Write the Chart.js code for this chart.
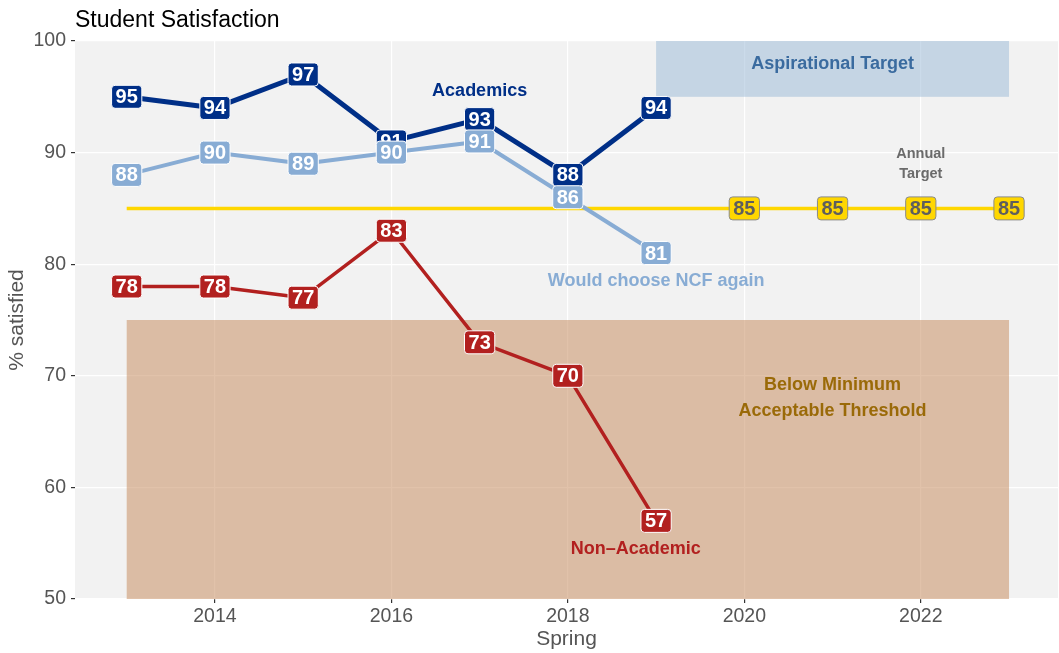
<!DOCTYPE html>
<html>
<head>
<meta charset="utf-8">
<script src="https://cdn.jsdelivr.net/npm/chart.js@4.4.1/dist/chart.umd.min.js"></script>
<style>
  html, body { margin: 0; padding: 0; background: #ffffff; }
  #wrap { width: 1059px; height: 653px; position: relative; }
</style>
</head>
<body>
<div id="wrap"><canvas id="c" width="1059" height="653"></canvas></div>
<script>
// ---- data ----
const years = [2013, 2014, 2015, 2016, 2017, 2018, 2019];
const academics = [95, 94, 97, 91, 93, 88, 94];
const chooseAgain = [88, 90, 89, 90, 91, 86, 81];
const nonAcademic = [78, 78, 77, 83, 73, 70, 57];
const targetYears = [2013, 2014, 2015, 2016, 2017, 2018, 2019, 2020, 2021, 2022, 2023];
const targetValues = [85, 85, 85, 85, 85, 85, 85, 85, 85, 85, 85];
const targetLabelFrom = 2020;
const xTicks = [2014, 2016, 2018, 2020, 2022];
const yTicks = [50, 60, 70, 80, 90, 100];
const aspirational = { x0: 2019, x1: 2023, y0: 95, y1: 100 };
const threshold = { x0: 2013, x1: 2023, y0: 50, y1: 75 };

const FONT = '"Liberation Sans", Arial, Helvetica, sans-serif';
const C_ACAD = '#002f87';
const C_NCF = '#88acd4';
const C_NON = '#b2201f';
const C_TGT = '#ffd700';

function pts(xs, ys) { return xs.map((x, i) => ({ x: x, y: ys[i] })); }

const notes = [
  { text: ['Academics'], x: 2017, y: 95.5, color: C_ACAD, size: 18 },
  { text: ['Would choose NCF again'], x: 2019, y: 78.5, color: C_NCF, size: 18 },
  { text: ['Non\u2013Academic'], x: 2018.77, y: 54.5, color: C_NON, size: 18 },
  { text: ['Aspirational Target'], x: 2021, y: 97.95, color: '#3a6b9f', size: 18 },
  { text: ['Annual', 'Target'], x: 2022, y: 89.0, color: '#6b6b6b', size: 14.5, lh: 20 },
  { text: ['Below Minimum', 'Acceptable Threshold'], x: 2021, y: 68.0, color: '#9a6a08', size: 18, lh: 26 }
];

const bgPlugin = {
  id: 'bg',
  beforeDraw(chart) {
    const { ctx, chartArea: a } = chart;
    ctx.save();
    ctx.fillStyle = '#f2f2f2';
    ctx.fillRect(a.left, a.top, a.right - a.left, a.bottom - a.top);
    ctx.restore();
  },
  beforeDatasetsDraw(chart) {
    const { ctx } = chart;
    const xs = chart.scales.x, ys = chart.scales.y;
    ctx.save();
    const rect = (r, col) => {
      const x0 = xs.getPixelForValue(r.x0), x1 = xs.getPixelForValue(r.x1);
      const y0 = ys.getPixelForValue(r.y0), y1 = ys.getPixelForValue(r.y1);
      ctx.fillStyle = col;
      ctx.fillRect(x0, y1, x1 - x0, y0 - y1);
    };
    rect(threshold, 'rgba(196,134,86,0.5)');
    rect(aspirational, 'rgba(152,184,214,0.5)');
    ctx.restore();
  }
};

function roundRect(ctx, x, y, w, h, r) {
  ctx.beginPath();
  ctx.moveTo(x + r, y);
  ctx.lineTo(x + w - r, y);
  ctx.quadraticCurveTo(x + w, y, x + w, y + r);
  ctx.lineTo(x + w, y + h - r);
  ctx.quadraticCurveTo(x + w, y + h, x + w - r, y + h);
  ctx.lineTo(x + r, y + h);
  ctx.quadraticCurveTo(x, y + h, x, y + h - r);
  ctx.lineTo(x, y + r);
  ctx.quadraticCurveTo(x, y, x + r, y);
  ctx.closePath();
}

const labelPlugin = {
  id: 'labels',
  afterDatasetsDraw(chart) {
    const { ctx } = chart;
    const xs = chart.scales.x, ys = chart.scales.y;
    ctx.save();
    ctx.font = 'bold 20px ' + FONT;
    ctx.textAlign = 'center';
    ctx.textBaseline = 'middle';
    const drawLabel = (x, y, fill, textCol, border) => {
      const px = xs.getPixelForValue(x), py = ys.getPixelForValue(y);
      const t = String(y);
      const w = ctx.measureText(t).width + 8, h = 23;
      roundRect(ctx, px - w / 2, py - h / 2, w, h, 3.5);
      ctx.fillStyle = fill;
      ctx.fill();
      ctx.lineWidth = 1;
      ctx.strokeStyle = border;
      ctx.stroke();
      ctx.fillStyle = textCol;
      ctx.fillText(t, px, py + 1);
    };
    nonAcademic.forEach((v, i) => drawLabel(years[i], v, C_NON, '#ffffff', '#ffffff'));
    academics.forEach((v, i) => drawLabel(years[i], v, C_ACAD, '#ffffff', '#ffffff'));
    chooseAgain.forEach((v, i) => drawLabel(years[i], v, C_NCF, '#ffffff', '#ffffff'));
    targetValues.forEach((v, i) => {
      if (targetYears[i] >= targetLabelFrom) drawLabel(targetYears[i], v, C_TGT, '#5e5e5e', '#8a8a8a');
    });

    // annotations
    notes.forEach(n => {
      ctx.font = 'bold ' + n.size + 'px ' + FONT;
      ctx.fillStyle = n.color;
      const px = xs.getPixelForValue(n.x), py = ys.getPixelForValue(n.y);
      const lh = n.lh || n.size * 1.3;
      const start = py - (n.text.length - 1) * lh / 2;
      n.text.forEach((line, k) => ctx.fillText(line, px, start + k * lh));
    });

    // title
    ctx.font = '23px ' + FONT;
    ctx.fillStyle = '#000000';
    ctx.textAlign = 'left';
    ctx.textBaseline = 'alphabetic';
    ctx.fillText('Student Satisfaction', chart.chartArea.left, 27);
    ctx.restore();
  }
};

new Chart(document.getElementById('c'), {
  type: 'line',
  data: {
    datasets: [
      { label: 'Annual Target', data: pts(targetYears, targetValues), borderColor: C_TGT, borderWidth: 3.5, pointRadius: 0, order: 10 },
      { label: 'Non-Academic', data: pts(years, nonAcademic), borderColor: C_NON, borderWidth: 3.5, pointRadius: 0, order: 5 },
      { label: 'Academics', data: pts(years, academics), borderColor: C_ACAD, borderWidth: 5, pointRadius: 0, order: 4 },
      { label: 'Would choose NCF again', data: pts(years, chooseAgain), borderColor: C_NCF, borderWidth: 4, pointRadius: 0, order: 3 }
    ]
  },
  options: {
    responsive: false,
    animation: false,
    layout: { padding: { top: 41, right: 1, left: 0, bottom: 0 } },
    plugins: { legend: { display: false }, tooltip: { enabled: false }, title: { display: false } },
    elements: { line: { tension: 0, borderCapStyle: 'butt', borderJoinStyle: 'round' } },
    scales: {
      x: {
        type: 'linear',
        min: 2012.414,
        max: 2023.555,
        afterBuildTicks: s => { s.ticks = xTicks.map(v => ({ value: v })); },
        afterFit: s => { s.height = 54; },
        grid: { color: '#ffffff', lineWidth: 1.2, tickColor: '#333333', tickLength: 4, drawTicks: true },
        border: { display: false },
        ticks: { color: '#555555', font: { family: FONT, size: 19.5 }, padding: 2, callback: v => String(v) },
        title: { display: true, text: 'Spring', color: '#555555', font: { family: FONT, size: 21 }, padding: { top: 0, bottom: 1 } }
      },
      y: {
        min: 50,
        max: 100,
        afterBuildTicks: s => { s.ticks = yTicks.map(v => ({ value: v })); },
        afterFit: s => { s.width = 75; },
        grid: { color: '#ffffff', lineWidth: 1.2, tickColor: '#333333', tickLength: 4, drawTicks: true },
        border: { display: false },
        ticks: { color: '#555555', font: { family: FONT, size: 19.5 }, padding: 5, callback: v => String(v) },
        title: { display: true, text: '% satisfied', color: '#555555', font: { family: FONT, size: 21 }, padding: { top: 5, bottom: 0 } }
      }
    }
  },
  plugins: [bgPlugin, labelPlugin]
});
</script>
</body>
</html>
